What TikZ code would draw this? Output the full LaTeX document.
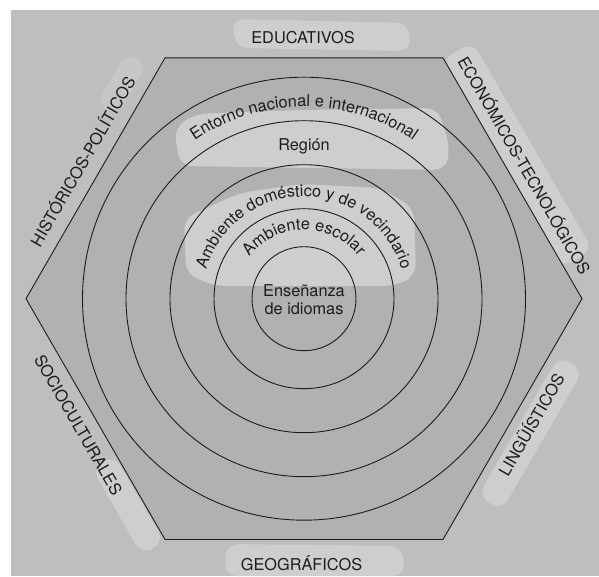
\documentclass[tikz,border=0pt]{standalone}
\usepackage{fontspec}
\setmainfont{TeX Gyre Heros}
\usetikzlibrary{decorations.text}
\definecolor{scanout}{RGB}{190,190,190}
\definecolor{scanin}{RGB}{177,177,177}
\definecolor{scanlight}{RGB}{206,206,206}
\definecolor{ink}{RGB}{28,28,28}
\newcommand\lblfont{\fontsize{16.3}{19}\selectfont}
\begin{document}
\begin{tikzpicture}[x=1pt,y=1pt,
  lbl/.style={font=\lblfont, inner sep=0pt, text=ink},
  ring/.style={draw=ink, line width=0.9pt},
  patch/.style={fill=scanlight, rounded corners=12pt}]
\useasboundingbox (0,0) rectangle (599,576);
\fill[white] (0,0) rectangle (599,576);
\fill[scanout] (10.5,0) rectangle (599,566);
% light patches outside the hexagon
\fill[patch] (232,557) -- (408,553) -- (411,525) -- (236,528) -- cycle;
\fill[patch] (226,32) -- (402,30) -- (405,0) -- (225,0) -- cycle;
\fill[patch, rotate around={-60:(517,421)}] (397,403) rectangle (637,439);
\fill[patch, rotate around={60:(530.5,143)}] (449.5,129) rectangle (611.5,157);
\fill[patch, rotate around={-60:(128,71)}] (78,58) rectangle (178,84);
\fill[patch, fill=scanlight!50!scanout, rotate around={60:(122,492)}] (92,480) rectangle (152,504);
% hexagon
\coordinate (C) at (304,277.3);
\path (C) ++(0:278) coordinate (h0);
\path (C) ++(60:278) coordinate (h1);
\path (C) ++(120:278) coordinate (h2);
\path (C) ++(180:278) coordinate (h3);
\path (C) ++(240:278) coordinate (h4);
\path (C) ++(300:278) coordinate (h5);
\fill[scanin] (h0) -- (h1) -- (h2) -- (h3) -- (h4) -- (h5) -- cycle;
% light patches inside
\fill[patch] (174,448) -- (195,462) -- (300,466) -- (438,468) -- (450,428) -- (446,406) -- (180,410) -- cycle;
\fill[patch] (184,358) -- (240,383) -- (300,392) -- (380,388) -- (414,368) -- (416,300) -- (395,290) -- (215,290) -- (186,302) -- cycle;
% rings
\draw[ring] (C) circle[radius=52];
\draw[ring] (C) circle[radius=90];
\draw[ring] (C) circle[radius=134];
\draw[ring] (C) circle[radius=178];
\draw[ring] (C) circle[radius=221.5];
\draw[ring, line join=miter] (h0) -- (h1) -- (h2) -- (h3) -- (h4) -- (h5) -- cycle;
% outer labels
\node[lbl, anchor=base] (edu) at (303,532.7) {EDUCATIVOS};
\node[lbl, anchor=base] (geo) at (301.5,5.5) {GEOGRÁFICOS};
\node[lbl, anchor=base, rotate=60] (his) at (88.1,411.2) {HISTÓRICOS-POLÍTICOS};
\node[lbl, anchor=base, rotate=-60] (eco) at (518.9,407.6) {ECONÓMICOS-TECNOLÓGICOS};
\node[lbl, anchor=base, rotate=-60] (soc) at (73.2,148.1) {SOCIOCULTURALES};
\node[lbl, anchor=base, rotate=60] (lin) at (536.8,148.1) {LINGÜÍSTICOS};
% inner labels
\node[lbl, anchor=base] (reg) at (304,425.3) {Región};
\node[lbl, anchor=base] (ens) at (304,279.3) {Enseñanza};
\node[lbl, anchor=base] (idi) at (304,261) {de idiomas};
\path[decorate, decoration={text along path, text align=center,
  text={|\color{ink}\lblfont|Entorno nacional e internacional}}]
  (C) ++(150:192) arc[start angle=150, end angle=30, radius=192];
\path[decorate, decoration={text along path, text align=center,
  text={|\color{ink}\lblfont|Ambiente doméstico y de vecindario}}]
  (C) ++(172:102) arc[start angle=172, end angle=8, radius=102];
\path[decorate, decoration={text along path, text align=center,
  text={|\color{ink}\lblfont|Ambiente escolar}}]
  (C) ++(165:69) arc[start angle=165, end angle=15, radius=69];
\end{tikzpicture}
\end{document}
